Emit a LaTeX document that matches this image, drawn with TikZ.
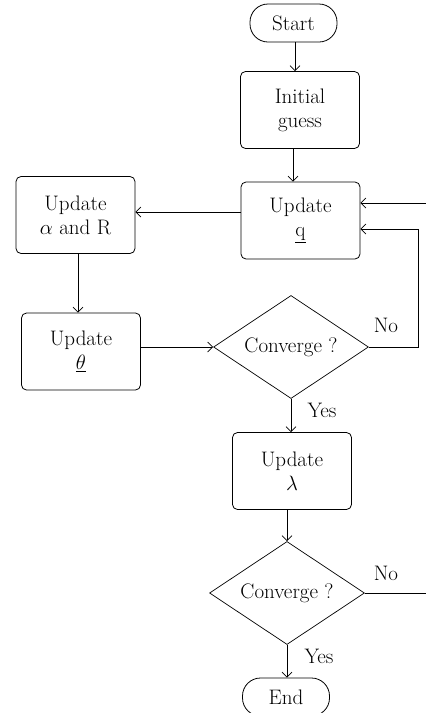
\documentclass[tikz,border=0pt]{standalone}
\usetikzlibrary{shapes.geometric,arrows.meta,calc}
\begin{document}
\begin{tikzpicture}[x=1pt,y=-1pt,
  every node/.style={font=\fontsize{21}{24}\selectfont, align=center},
  procbox/.style={draw, line width=0.8pt, rounded corners=5pt, minimum width=119pt, minimum height=77pt, inner sep=0pt},
  termbox/.style={draw, line width=0.8pt, rounded corners=18pt, minimum width=87pt, minimum height=38pt, inner sep=0pt},
  decbox/.style={draw, line width=0.7pt, diamond, aspect=1.5, minimum width=155pt, minimum height=103pt, inner sep=0pt},
  lbl/.style={inner sep=0pt},
  conn/.style={draw, line width=0.8pt, -{Straight Barb[length=5pt,width=10pt,line width=0.7pt]}},
  plain/.style={draw, line width=0.8pt}]
\useasboundingbox (0,0) rectangle (426,713);

\node[termbox] (start) at (293.5,23) {Start};
\node[procbox] (init) at (300,110) {Initial\\guess};
\node[procbox] (upq) at (300.5,220.5) {Update\\$\underline{\mathrm{q}}$};
\node[procbox] (alpha) at (75.5,215) {Update\\$\alpha$ and R};
\node[procbox] (theta) at (81,351.5) {Update\\$\underline{\theta}$};
\node[decbox] (d1) at (291,347) {Converge ?};
\node[procbox] (lam) at (292,471) {Update\\$\lambda$};
\node[decbox] (d2) at (287,593) {Converge ?};
\node[termbox] (end) at (286,697) {End};

\coordinate (loopA) at (418,229);
\coordinate (outA) at (432,203);
\coordinate (outB) at (432,593);

\draw[conn] (start.south -| 295,0) -- (init.north -| 295,0);
\draw[conn] (init.south -| 293,0) -- (upq.north -| 293,0);
\draw[conn] (upq.west |- 0,212) -- (alpha.east |- 0,212);
\draw[conn] (alpha.south -| 78,0) -- (theta.north -| 78,0);
\draw[conn] (theta.east |- d1) -- (d1.west);
\draw[plain] (d1.east) -| (loopA);
\draw[conn] (loopA) -- (upq.east |- loopA);
\draw[conn] (outA) -- (upq.east |- outA);
\draw[conn] (d1.south) -- (d1.south |- lam.north);
\draw[conn] (d2.north |- lam.south) -- (d2.north);
\draw[plain] (d2.east) -- (outB);
\draw[conn] (d2.south) -- (d2.south |- end.north);

\node[lbl] (no1) at (386,325) {No};
\node[lbl] (yes1) at (322,410) {Yes};
\node[lbl] (no2) at (386,573) {No};
\node[lbl] (yes2) at (319,656) {Yes};
\end{tikzpicture}
\end{document}
